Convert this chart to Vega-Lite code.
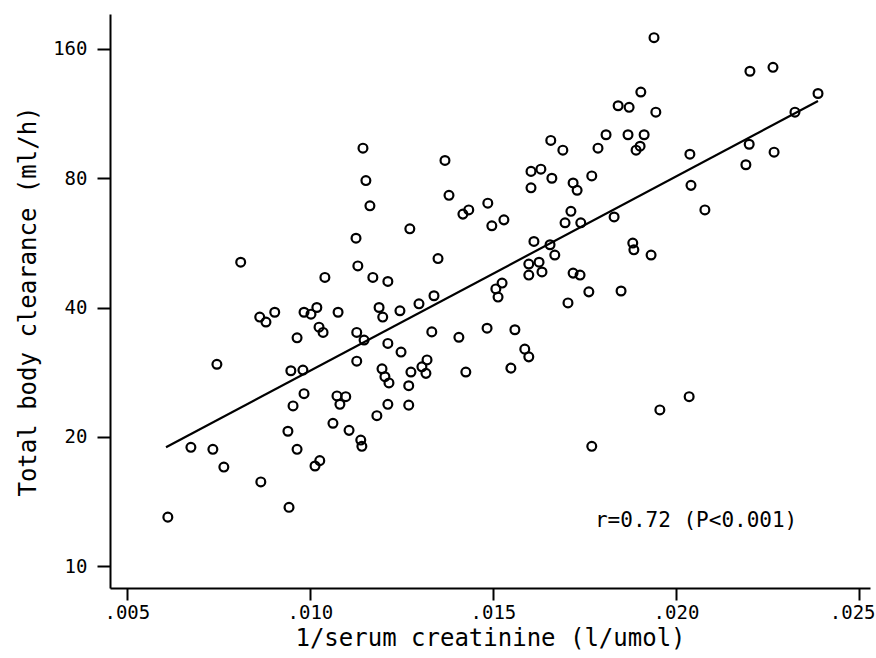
{
  "$schema": "https://vega.github.io/schema/vega-lite/v6.json",
  "width": 760,
  "height": 574,
  "autosize": "none",
  "padding": {"left": 110, "top": 14, "right": 6, "bottom": 70},
  "background": "white",
  "config": {
    "view": {"stroke": null},
    "font": "DejaVu Sans Mono",
    "axis": {
      "grid": false,
      "domainColor": "black",
      "domainWidth": 2,
      "tickColor": "black",
      "tickWidth": 2,
      "labelColor": "black",
      "titleColor": "black",
      "labelFont": "DejaVu Sans Mono",
      "titleFont": "DejaVu Sans Mono",
      "labelFontSize": 19,
      "titleFontSize": 24,
      "titleFontWeight": "normal"
    }
  },
  "datasets": {
    "pts": [
      {"x": 0.01940, "y": 170}, {"x": 0.01904, "y": 127}, {"x": 0.01842, "y": 118}, {"x": 0.01872, "y": 117},
      {"x": 0.01945, "y": 114}, {"x": 0.01658, "y": 98}, {"x": 0.01691, "y": 93}, {"x": 0.01809, "y": 101},
      {"x": 0.01787, "y": 94}, {"x": 0.01869, "y": 101}, {"x": 0.01913, "y": 101}, {"x": 0.01902, "y": 95},
      {"x": 0.01891, "y": 93}, {"x": 0.01369, "y": 88}, {"x": 0.01604, "y": 83}, {"x": 0.01631, "y": 84},
      {"x": 0.01661, "y": 80}, {"x": 0.01604, "y": 76}, {"x": 0.01719, "y": 78}, {"x": 0.01730, "y": 75},
      {"x": 0.01770, "y": 81}, {"x": 0.01380, "y": 73}, {"x": 0.01418, "y": 66}, {"x": 0.01434, "y": 67.5},
      {"x": 0.01486, "y": 70}, {"x": 0.01497, "y": 62}, {"x": 0.01530, "y": 64}, {"x": 0.01273, "y": 61},
      {"x": 0.01713, "y": 67}, {"x": 0.01697, "y": 63}, {"x": 0.01740, "y": 63}, {"x": 0.01831, "y": 65},
      {"x": 0.01612, "y": 57}, {"x": 0.01656, "y": 56}, {"x": 0.01882, "y": 56.5}, {"x": 0.01885, "y": 54.5},
      {"x": 0.01932, "y": 53}, {"x": 0.01669, "y": 53}, {"x": 0.01350, "y": 52}, {"x": 0.01145, "y": 94},
      {"x": 0.01153, "y": 79}, {"x": 0.01164, "y": 69}, {"x": 0.01126, "y": 58}, {"x": 0.02202, "y": 142},
      {"x": 0.02265, "y": 145}, {"x": 0.02388, "y": 126}, {"x": 0.02325, "y": 114}, {"x": 0.02038, "y": 91},
      {"x": 0.02200, "y": 96}, {"x": 0.02268, "y": 92}, {"x": 0.02191, "y": 86}, {"x": 0.02041, "y": 77},
      {"x": 0.02079, "y": 67.5}, {"x": 0.00811, "y": 51}, {"x": 0.01131, "y": 50}, {"x": 0.01041, "y": 47},
      {"x": 0.01172, "y": 47}, {"x": 0.01213, "y": 46}, {"x": 0.00863, "y": 38}, {"x": 0.00880, "y": 37},
      {"x": 0.00904, "y": 39}, {"x": 0.00984, "y": 39}, {"x": 0.01003, "y": 38.6}, {"x": 0.01019, "y": 40},
      {"x": 0.01077, "y": 39}, {"x": 0.01189, "y": 40}, {"x": 0.01199, "y": 38}, {"x": 0.00965, "y": 34},
      {"x": 0.01025, "y": 36}, {"x": 0.01036, "y": 35}, {"x": 0.01128, "y": 35}, {"x": 0.01148, "y": 33.6},
      {"x": 0.01213, "y": 33}, {"x": 0.00746, "y": 29.5}, {"x": 0.00948, "y": 28.5}, {"x": 0.00981, "y": 28.6},
      {"x": 0.01128, "y": 30}, {"x": 0.01197, "y": 28.8}, {"x": 0.01205, "y": 27.6}, {"x": 0.01216, "y": 26.7},
      {"x": 0.00984, "y": 25.2}, {"x": 0.00954, "y": 23.6}, {"x": 0.01074, "y": 24.9}, {"x": 0.01098, "y": 24.8},
      {"x": 0.01082, "y": 23.8}, {"x": 0.01213, "y": 23.8}, {"x": 0.01183, "y": 22.4}, {"x": 0.01063, "y": 21.5},
      {"x": 0.00940, "y": 20.6}, {"x": 0.01107, "y": 20.7}, {"x": 0.01139, "y": 19.65}, {"x": 0.01142, "y": 19.0},
      {"x": 0.00675, "y": 18.9}, {"x": 0.00735, "y": 18.7}, {"x": 0.00965, "y": 18.7}, {"x": 0.00765, "y": 17.0},
      {"x": 0.01027, "y": 17.6}, {"x": 0.01014, "y": 17.1}, {"x": 0.00866, "y": 15.7}, {"x": 0.00943, "y": 13.7},
      {"x": 0.00612, "y": 13.0}, {"x": 0.01598, "y": 50.5}, {"x": 0.01626, "y": 51}, {"x": 0.01598, "y": 47.6},
      {"x": 0.01634, "y": 48.4}, {"x": 0.01719, "y": 48.1}, {"x": 0.01738, "y": 47.6}, {"x": 0.01762, "y": 43.5},
      {"x": 0.01850, "y": 43.7}, {"x": 0.01705, "y": 41}, {"x": 0.01525, "y": 45.6}, {"x": 0.01508, "y": 44.2},
      {"x": 0.01514, "y": 42.3}, {"x": 0.01339, "y": 42.6}, {"x": 0.01298, "y": 40.8}, {"x": 0.01246, "y": 39.3},
      {"x": 0.01333, "y": 35.1}, {"x": 0.01407, "y": 34.1}, {"x": 0.01484, "y": 35.8}, {"x": 0.01560, "y": 35.5},
      {"x": 0.01249, "y": 31.5}, {"x": 0.01587, "y": 32.0}, {"x": 0.01598, "y": 30.7}, {"x": 0.01320, "y": 30.2},
      {"x": 0.01306, "y": 29.1}, {"x": 0.01317, "y": 28.1}, {"x": 0.01276, "y": 28.3}, {"x": 0.01426, "y": 28.3},
      {"x": 0.01549, "y": 28.9}, {"x": 0.01270, "y": 26.3}, {"x": 0.01270, "y": 23.7}, {"x": 0.01956, "y": 23.1},
      {"x": 0.01770, "y": 19.0}, {"x": 0.02036, "y": 24.8}
    ],
    "fit": [
      {"x": 0.00607, "y": 18.9},
      {"x": 0.02388, "y": 121}
    ],
    "note": [
      {"x": 0.02055, "y": 12.7, "label": "r=0.72 (P<0.001)"}
    ]
  },
  "layer": [
    {
      "data": {"name": "pts"},
      "mark": {"type": "point", "shape": "circle", "filled": false, "color": "black", "strokeWidth": 2.2, "size": 78, "opacity": 1},
      "encoding": {
        "x": {
          "field": "x", "type": "quantitative",
          "scale": {"domain": [0.00454, 0.0253], "nice": false, "zero": false},
          "axis": {
            "title": "1/serum creatinine (l/umol)",
            "values": [0.005, 0.01, 0.015, 0.02, 0.025],
            "labelExpr": "substring(format(datum.value, '.3f'), 1)",
            "labelFlush": 14,
            "labelFlushOffset": 16,
            "tickSize": 12,
            "labelPadding": 3,
            "titlePadding": 4
          }
        },
        "y": {
          "field": "y", "type": "quantitative",
          "scale": {"type": "log", "base": 2, "domain": [8.89, 193], "nice": false, "zero": false},
          "axis": {
            "title": "Total body clearance (ml/h)",
            "values": [10, 20, 40, 80, 160],
            "format": "d",
            "tickSize": 13,
            "labelPadding": 10,
            "titlePadding": 12
          }
        }
      }
    },
    {
      "data": {"name": "fit"},
      "mark": {"type": "line", "color": "black", "strokeWidth": 2.2},
      "encoding": {
        "x": {"field": "x", "type": "quantitative"},
        "y": {"field": "y", "type": "quantitative"}
      }
    },
    {
      "data": {"name": "note"},
      "mark": {"type": "text", "font": "DejaVu Sans Mono", "fontSize": 21, "color": "black", "align": "center", "baseline": "middle"},
      "encoding": {
        "x": {"field": "x", "type": "quantitative"},
        "y": {"field": "y", "type": "quantitative"},
        "text": {"field": "label"}
      }
    }
  ]
}
